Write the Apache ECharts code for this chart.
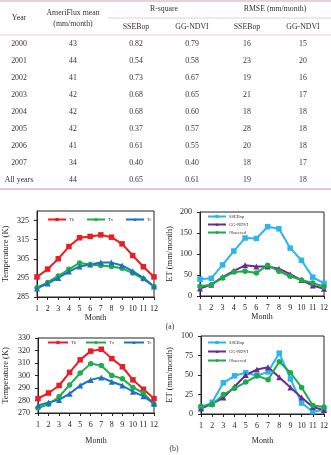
<!DOCTYPE html>
<html>
<head>
<meta charset="utf-8">
<script src="https://cdn.jsdelivr.net/npm/echarts@6/dist/echarts.min.js"></script>
<style>
  html, body { margin: 0; padding: 0; background: #fff; }
  #main { width: 331px; height: 455px; }
</style>
</head>
<body>
<div id="main"></div>
<script>
// table values
var years = ['2000', '2001', '2002', '2003', '2004', '2005', '2006', '2007', 'All years'];
var amerifluxMean = ['43', '44', '41', '42', '42', '42', '41', '34', '44'];
var rsqSSEBop = ['0.82', '0.54', '0.73', '0.68', '0.68', '0.37', '0.61', '0.40', '0.65'];
var rsqGG = ['0.79', '0.58', '0.67', '0.65', '0.60', '0.57', '0.55', '0.40', '0.61'];
var rmseSSEBop = ['16', '23', '19', '21', '18', '28', '20', '18', '19'];
var rmseGG = ['15', '20', '16', '17', '18', '18', '18', '17', '18'];

// chart values
var months = ['1', '2', '3', '4', '5', '6', '7', '8', '9', '10', '11', '12'];
var aTh = [295.5, 299.6, 305, 311.4, 316, 316.7, 317.5, 316.3, 312.8, 306.7, 300.8, 295.5];
var aTx = [289.9, 292.6, 296, 299.5, 302.8, 302, 301.5, 301, 300, 297.5, 294.5, 290.5];
var aTc = [289.5, 292, 295, 298.3, 301, 302, 303, 303, 301.5, 298.5, 295, 290.5];
var aSSEBop = [40, 42, 74, 107, 138, 137, 165, 160, 114, 85, 45, 30];
var aGG = [18, 27, 45, 60, 73, 70, 70, 65, 52, 38, 25, 17];
var aObs = [23, 27, 43, 57, 59, 55, 73, 59, 47, 38, 31, 22];
var bTh = [281.5, 286, 292, 302.5, 312.5, 319.5, 321, 313.5, 307, 296.5, 289, 281.5];
var bTx = [274, 277, 283, 292.5, 302, 309.5, 308, 300, 297.5, 290.5, 286, 277];
var bTc = [276, 278.5, 280.5, 285.5, 292, 296.5, 298.5, 295, 292, 287, 283.5, 277.5];
var bSSEBop = [8, 15, 40, 49, 53, 49, 54, 78, 45, 14, 3, 5];
var bGG = [7, 13, 21, 35, 50, 57, 60, 47, 34, 21, 9, 5];
var bObs = [10, 12, 25, 33, 41, 49, 44, 67, 53, 34, 11, 9];

var serif = 'Liberation Serif';
var colors = {Th: '#ec1c24', Tx: '#1fae4b', Tc: '#1b74bb', SSEBop: '#2bb5ee', GG: '#6a2c91', Obs: '#1daa4f'};

var myChart = echarts.init(document.getElementById('main'));

// table drawn as graphic text
var graphics = [];
function txt(x, y, s, size) {
    graphics.push({
        type: 'text', x: x, y: y,
        style: {text: s, fill: '#333', font: (size || 7.8) + 'px "' + serif + '"', textAlign: 'center', textVerticalAlign: 'middle'}
    });
}
function hline(x1, x2, y, color, w) {
    graphics.push({type: 'line', shape: {x1: x1, y1: y, x2: x2, y2: y}, style: {stroke: color, lineWidth: w}});
}
hline(0, 331, 1, '#d4a3ab', 1);
hline(108, 331, 18, '#d9c6c9', 0.8);
hline(0, 331, 35, '#d9c6c9', 0.8);
hline(0, 331, 189, '#d08b97', 1.2);
txt(19, 18, 'Year');
txt(73, 13, 'AmeriFlux mean');
txt(73, 24, '(mm/month)');
txt(164, 9, 'R-square');
txt(275, 9, 'RMSE (mm/month)');
txt(136, 27, 'SSEBop');
txt(192, 27, 'GG-NDVI');
txt(247, 27, 'SSEBop');
txt(303, 27, 'GG-NDVI');
var colX = [19, 73, 136, 192, 247, 303];
for (var i = 0; i < years.length; i++) {
    var y = 44 + i * 17;
    var row = [years[i], amerifluxMean[i], rsqSSEBop[i], rsqGG[i], rmseSSEBop[i], rmseGG[i]];
    for (var j = 0; j < row.length; j++) txt(colX[j], y, row[j]);
}
txt(170, 327, '(a)');
txt(174, 449, '(b)');

function xAxisFor(g, gap) {
    return {
        type: 'category', gridIndex: g, data: months, boundaryGap: false,
        name: 'Month', nameLocation: 'middle', nameGap: gap,
        nameTextStyle: {fontFamily: serif, fontSize: 8, color: '#222'},
        axisLine: {lineStyle: {color: '#222', width: 1}},
        axisTick: {show: true, length: 3, alignWithLabel: true, lineStyle: {color: '#222'}},
        axisLabel: {interval: 0, fontFamily: serif, fontSize: 8, color: '#222', margin: 8},
        splitLine: {show: false}
    };
}
function yAxisFor(g, name, min, max, step, gap) {
    return {
        type: 'value', gridIndex: g, min: min, max: max, interval: step,
        name: name, nameLocation: 'middle', nameGap: gap,
        nameTextStyle: {fontFamily: serif, fontSize: 8.5, color: '#222'},
        axisLine: {show: true, lineStyle: {color: '#222', width: 1}},
        axisTick: {show: true, length: 3, lineStyle: {color: '#222'}},
        axisLabel: {fontFamily: serif, fontSize: 8, color: '#222', margin: 8, showMaxLabel: max % step === min % step},
        splitLine: {show: false}
    };
}
function line(name, g, data, color, symbol) {
    return {
        name: name, type: 'line', xAxisIndex: g, yAxisIndex: g, data: data,
        symbol: symbol, symbolSize: symbol === 'triangle' ? 6 : 5.5,
        lineStyle: {color: color, width: 2}, itemStyle: {color: color},
        animation: false
    };
}
function legendFor(names, opts) {
    return Object.assign({
        data: names, itemWidth: 18, itemHeight: 4, padding: 0,
        textStyle: {fontFamily: serif, fontSize: 4.5, color: '#333', padding: [0, 0, 0, -2]}
    }, opts);
}

myChart.setOption({
    animation: false,
    grid: [
        {left: 36, top: 211, width: 118, height: 86, show: true, borderColor: '#222', borderWidth: 1},
        {left: 200, top: 212, width: 125, height: 84, show: true, borderColor: '#222', borderWidth: 1},
        {left: 37, top: 338, width: 117, height: 75, show: true, borderColor: '#222', borderWidth: 1},
        {left: 201, top: 336, width: 124, height: 78, show: true, borderColor: '#222', borderWidth: 1}
    ],
    legend: [
        legendFor(['Th', 'Tx', 'Tc'], {left: 47, top: 217, itemGap: 12}),
        legendFor(['SSEBop', 'GG-NDVI', 'Observed'], {left: 207, top: 214, orient: 'vertical', itemGap: 3}),
        legendFor(['Th', 'Tx', 'Tc'], {left: 47, top: 340, itemGap: 9, itemWidth: 20}),
        legendFor(['SSEBop', 'GG-NDVI', 'Observed'], {left: 207, top: 340, orient: 'vertical', itemGap: 4})
    ],
    xAxis: [xAxisFor(0, 14), xAxisFor(1, 15), xAxisFor(2, 24), xAxisFor(3, 23)],
    yAxis: [
        yAxisFor(0, 'Temperature (K)', 285, 330, 10, 27),
        yAxisFor(1, 'ET (mm/month)', 0, 200, 50, 26),
        yAxisFor(2, 'Temperature (K)', 270, 330, 10, 28),
        yAxisFor(3, 'ET (mm/month)', 0, 100, 25, 27)
    ],
    graphic: graphics,
    series: [
        line('Th', 0, aTh, colors.Th, 'rect'),
        line('Tx', 0, aTx, colors.Tx, 'circle'),
        line('Tc', 0, aTc, colors.Tc, 'triangle'),
        line('SSEBop', 1, aSSEBop, colors.SSEBop, 'rect'),
        line('GG-NDVI', 1, aGG, colors.GG, 'triangle'),
        line('Observed', 1, aObs, colors.Obs, 'circle'),
        line('Th', 2, bTh, colors.Th, 'rect'),
        line('Tx', 2, bTx, colors.Tx, 'circle'),
        line('Tc', 2, bTc, colors.Tc, 'triangle'),
        line('SSEBop', 3, bSSEBop, colors.SSEBop, 'rect'),
        line('GG-NDVI', 3, bGG, colors.GG, 'triangle'),
        line('Observed', 3, bObs, colors.Obs, 'circle')
    ]
});
</script>
</body>
</html>
